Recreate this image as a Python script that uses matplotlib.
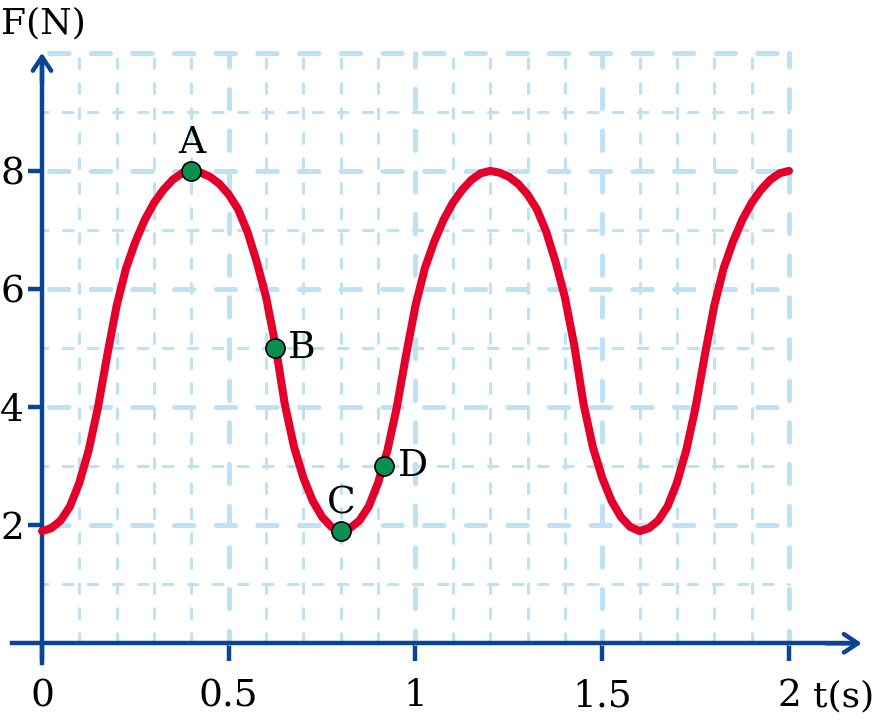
import numpy as np
import matplotlib
matplotlib.use("Agg")
import matplotlib.pyplot as plt

plt.rcParams['font.family'] = ['DejaVu Serif', 'DejaVu Sans']
plt.rcParams['lines.scale_dashes'] = False

# force curve, every 0.025 s
time_s = np.linspace(0, 2, 81)
force_N = [
    1.90, 1.95, 2.08, 2.32, 2.72, 3.27, 4.00, 4.89, 5.72, 6.35, 6.80, 7.17, 7.46, 7.68, 7.85, 7.96,
    8.00, 7.97, 7.90, 7.78, 7.60, 7.35, 6.97, 6.46, 5.86, 5.05, 4.05, 3.32, 2.80, 2.41, 2.14, 1.97,
    1.90, 1.95, 2.08, 2.32, 2.72, 3.27, 4.00, 4.89, 5.72, 6.35, 6.80, 7.17, 7.46, 7.68, 7.85, 7.96,
    8.00, 7.97, 7.90, 7.78, 7.60, 7.35, 6.97, 6.46, 5.86, 5.05, 4.05, 3.32, 2.80, 2.41, 2.14, 1.97,
    1.90, 1.95, 2.08, 2.32, 2.72, 3.27, 4.00, 4.89, 5.72, 6.35, 6.80, 7.17, 7.46, 7.68, 7.85, 7.96,
    8.00,
]

point_names = ['A', 'B', 'C', 'D']
point_t = [0.4, 0.625, 0.8, 0.915]
point_F = [8.0, 5.0, 1.9, 3.0]

x_ticks = [0, 0.5, 1, 1.5, 2]
x_labels = ['0', '0.5', '1', '1.5', '2']
y_ticks = [2, 4, 6, 8]
y_labels = ['2', '4', '6', '8']

grid_minor_x = [0.1, 0.2, 0.3, 0.4, 0.6, 0.7, 0.8, 0.9, 1.1, 1.2, 1.3, 1.4, 1.6, 1.7, 1.8, 1.9]
grid_major_x = [0.5, 1.0, 1.5, 2.0]
grid_minor_y = [1, 3, 5, 7, 9]
grid_major_y = [2, 4, 6, 8, 10]

axis_col = '#0a4595'
grid_col = '#bee1f4'
curve_col = '#e4002b'
dot_col = '#0a8f4f'
fs = 27

fig = plt.figure(figsize=(8.75, 7.26), dpi=100)
ax = fig.add_axes([0, 0, 1, 1])
ax.set_xlim(-0.11245, 2.2303)
ax.set_ylim(-1.4005, 10.894)

# grid
ax.vlines(grid_minor_x, 0, 10, colors=grid_col, lw=2.2, linestyles=(0, (7, 11)),
          capstyle='round', zorder=1)
ax.hlines(grid_minor_y, 0, 2, colors=grid_col, lw=2.2, linestyles=(3, (7, 11)),
          capstyle='round', zorder=1)
ax.vlines(grid_major_x, 0, 10, colors=grid_col, lw=3.6, linestyles=(5, (14, 16)),
          capstyle='round', zorder=2)
ax.hlines(grid_major_y, 0.02, 2, colors=grid_col, lw=3.6, linestyles=(0, (14, 16)),
          capstyle='round', zorder=2)

# axes
for side in ['top', 'right']:
    ax.spines[side].set_visible(False)
ax.spines['left'].set_position(('data', 0))
ax.spines['bottom'].set_position(('data', 0))
ax.spines['left'].set_bounds(-0.334, 9.8)
ax.spines['bottom'].set_bounds(-0.08, 2.17)
for side in ['left', 'bottom']:
    ax.spines[side].set_color(axis_col)
    ax.spines[side].set_linewidth(3.2)
    ax.spines[side].set_zorder(5)

arrow = dict(arrowstyle='->,head_length=0.5,head_width=0.33', lw=3.2,
             color=axis_col, mutation_scale=20, shrinkA=0, shrinkB=0)
ax.annotate('', xy=(2.195, 0), xytext=(2.1, 0), arrowprops=arrow, zorder=5)
ax.annotate('', xy=(0, 10.0), xytext=(0, 9.5), arrowprops=arrow, zorder=5)

ax.set_xticks(x_ticks, x_labels)
ax.set_yticks(y_ticks, y_labels)
ax.tick_params(axis='x', direction='out', length=13, width=3.2, color=axis_col,
               pad=12, labelsize=fs, labelcolor='black')
ax.tick_params(axis='y', direction='out', length=10, width=3.2, color=axis_col,
               pad=3, labelsize=fs, labelcolor='black')

ax.text(0.004, 10.50, 'F(N)', fontsize=26, ha='center', va='center')
ax.text(2.146, -0.905, 't(s)', fontsize=26, ha='center', va='center')

# curve and points
ax.plot(time_s, force_N, color=curve_col, lw=5.8, solid_capstyle='round',
        solid_joinstyle='round', zorder=6)
ax.scatter(point_t, point_F, s=190, color=dot_col, edgecolors='black', linewidths=1.2, zorder=7)

offsets = {'A': (0, 13, 'center', 'baseline'), 'B': (9, 0, 'left', 'center'),
           'C': (0, 13, 'center', 'baseline'), 'D': (10, 0, 'left', 'center')}
for name, t, F in zip(point_names, point_t, point_F):
    dx, dy, ha, va = offsets[name]
    ax.annotate(name, (t, F), xytext=(dx, dy), textcoords='offset points',
                fontsize=fs, ha=ha, va=va, zorder=8)

fig.savefig('out.png', dpi=100)
